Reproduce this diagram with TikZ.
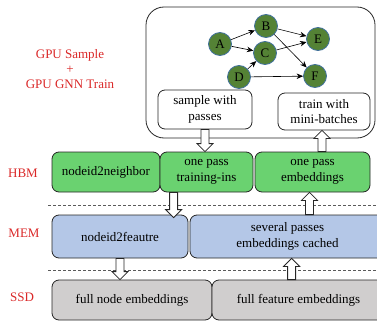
\documentclass[tikz,border=0pt]{standalone}
\usepackage{fontspec}
\setmainfont{Liberation Serif}
\usetikzlibrary{calc,arrows.meta}

\definecolor{hbmgreen}{RGB}{106,210,112}
\definecolor{memblue}{RGB}{180,199,231}
\definecolor{ssdgray}{RGB}{208,206,206}
\definecolor{gnodefill}{RGB}{84,130,53}
\definecolor{gnodeline}{RGB}{65,113,156}
\definecolor{labelred}{RGB}{218,40,40}
\definecolor{dashgray}{RGB}{90,90,90}

% hollow block arrows: tail at #1, tip at #2 (vertically aligned)
\newcommand\blockdown[2]{%
  \draw[blockarr] ($(#1)+(-4pt,0pt)$) -- ($(#2)+(-4pt,8pt)$) -- ($(#2)+(-8pt,8pt)$)
    -- (#2) -- ($(#2)+(8pt,8pt)$) -- ($(#2)+(4pt,8pt)$) -- ($(#1)+(4pt,0pt)$) -- cycle;}
\newcommand\blockup[2]{%
  \draw[blockarr] ($(#1)+(-4pt,0pt)$) -- ($(#2)+(-4pt,-8pt)$) -- ($(#2)+(-8pt,-8pt)$)
    -- (#2) -- ($(#2)+(8pt,-8pt)$) -- ($(#2)+(4pt,-8pt)$) -- ($(#1)+(4pt,0pt)$) -- cycle;}

\begin{document}
\begin{tikzpicture}[x=1pt,y=-1pt,
  txt/.style={font=\fontsize{13}{15.5}\selectfont, align=center},
  box/.style={txt, draw=black!85, line width=0.8pt, rounded corners=7pt, inner sep=0pt},
  hbm/.style={box, fill=hbmgreen},
  mem/.style={box, fill=memblue},
  ssd/.style={box, fill=ssdgray},
  wbox/.style={box, fill=white},
  tier/.style={font=\fontsize{13}{15}\selectfont, text=labelred},
  gnode/.style={circle, fill=gnodefill, draw=gnodeline, line width=0.8pt,
    minimum size=23pt, inner sep=0pt, font=\fontsize{13}{15}\selectfont},
  gedge/.style={line width=0.6pt, -{Stealth[length=6.5pt,width=5.5pt]}},
  blockarr/.style={draw=black!85, fill=white, line width=0.8pt, line join=miter},
  tierline/.style={dashgray, line width=0.8pt, dash pattern=on 3pt off 2pt}]
\useasboundingbox (0,0) rectangle (377,321);

% GPU region with the sampling graph
\node[draw=black!85, line width=0.8pt, rounded corners=18pt,
  minimum width=229pt, minimum height=131pt] (gpu) at (260.5,72.5) {};

\node[gnode] (A) at (220,44) {A};
\node[gnode] (B) at (266,26) {B};
\node[gnode] (C) at (265,53) {C};
\node[gnode] (D) at (239,77) {D};
\node[gnode] (E) at (318,39) {E};
\node[gnode] (F) at (315,76) {F};
\draw[gedge] (A) -- (B);
\draw[gedge] (A) -- (C);
\draw[gedge] (B) -- (E);
\draw[gedge] (B) -- (F);
\draw[gedge] (C) -- (E);
\draw[gedge] (D) -- (C);
\draw[gedge] (D) -- (F);

\node[wbox, minimum width=94pt, minimum height=39pt] (sample) at (205,109.5)
  {sample with\\passes};
\node[wbox, minimum width=92pt, minimum height=37pt] (train) at (324,111.5)
  {train with\\mini-batches};

\node[tier, align=center] (gpulab) at (70,69) {GPU Sample\\+\\GPU GNN Train};

% tier labels
\node[tier] (hbmlab) at (23,173) {HBM};
\node[tier] (memlab) at (24,233) {MEM};
\node[tier] (ssdlab) at (22,297) {SSD};

% HBM row
\node[hbm, minimum width=108pt, minimum height=40pt] (n2n) at (106,172) {nodeid2neighbor};
\node[hbm, minimum width=93pt, minimum height=40pt] (tr) at (206.5,172) {one pass\\training-ins};
\node[hbm, minimum width=115pt, minimum height=40pt] (emb) at (312.5,172) {one pass\\embeddings};

% MEM row
\node[mem, minimum width=136pt, minimum height=43pt] (feat) at (120,236.5) {nodeid2feautre};
\node[mem, minimum width=195pt, minimum height=43pt] (cache) at (287.5,236.5) {several passes\\embeddings cached};

% SSD row
\node[ssd, minimum width=160pt, minimum height=40pt] (fne) at (132,300) {full node embeddings};
\node[ssd, minimum width=173pt, minimum height=40pt] (ffe) at (298.5,300) {full feature embeddings};

% tier separators
\coordinate (s1a) at (48,205);
\coordinate (s1b) at (377,205);
\coordinate (s2a) at (48,270);
\coordinate (s2b) at (377,270);
\draw[tierline] (s1a) -- (s1b);
\draw[tierline] (s2a) -- (s2b);

% data movement between the boxes
\coordinate (a1s) at (sample.south);
\coordinate (a1e) at (sample.south |- tr.north);
\coordinate (a2s) at ($(train.south |- emb.north)+(-2pt,0pt)$);
\coordinate (a2e) at ($(train.south)+(-2pt,0pt)$);
\coordinate (a3s) at ($(tr.south west)+(14pt,0pt)$);
\coordinate (a3e) at ($(tr.south west |- feat.north)+(14pt,-3pt)$);
\coordinate (a4s) at ($(emb.south |- cache.north)+(-3pt,0pt)$);
\coordinate (a4e) at ($(emb.south)+(-3pt,0pt)$);
\coordinate (a5s) at (feat.south);
\coordinate (a5e) at (feat.south |- fne.north);
\coordinate (a6s) at ($(ffe.north west)+(80pt,0pt)$);
\coordinate (a6e) at ($(ffe.north west |- cache.south)+(80pt,0pt)$);
\blockdown{a1s}{a1e}
\blockup{a2s}{a2e}
\blockdown{a3s}{a3e}
\blockup{a4s}{a4e}
\blockdown{a5s}{a5e}
\blockup{a6s}{a6e}
\end{tikzpicture}
\end{document}
